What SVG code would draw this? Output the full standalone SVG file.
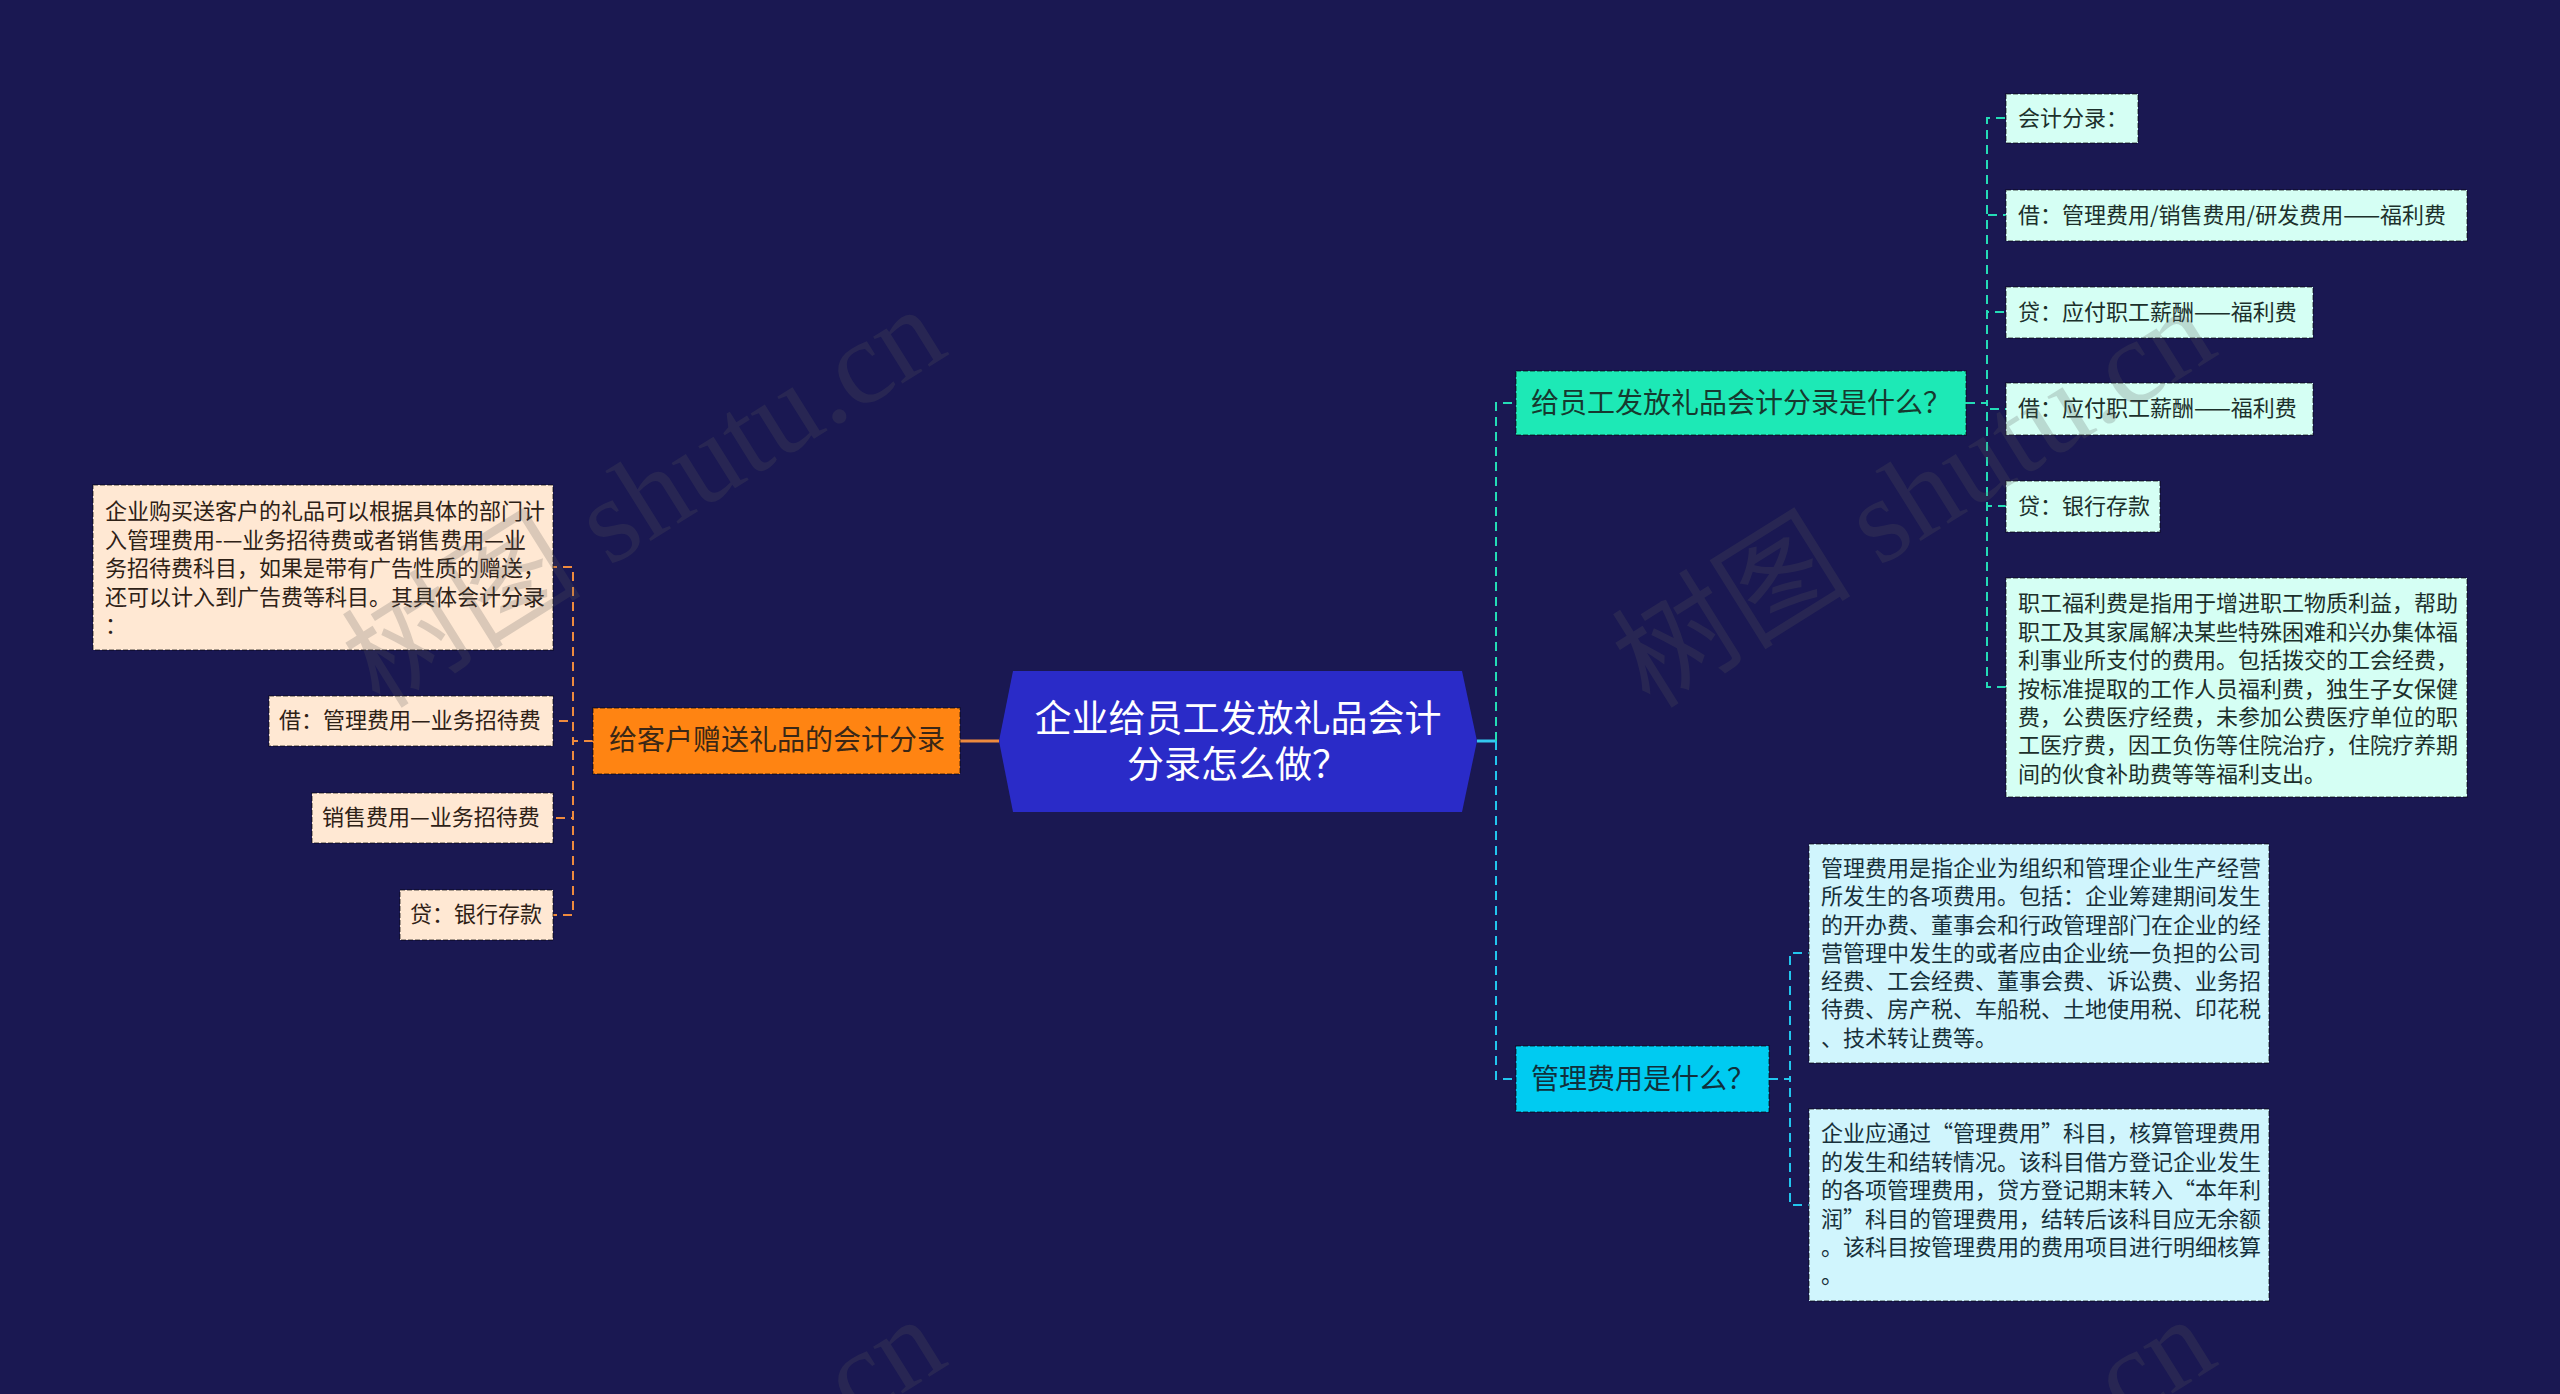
<svg xmlns="http://www.w3.org/2000/svg" width="2560" height="1394" viewBox="0 0 2560 1394">
<defs>
<style>
.t{font-family:"Noto Sans CJK SC","Noto Sans",sans-serif;}
.s22{font-size:22px;}
.s28{font-size:28px;}
.b{stroke:#000;stroke-opacity:0.45;stroke-width:1.5;stroke-dasharray:5 2;}
.peach{fill:#ffe8d3;}
.mint{fill:#d5fff4;}
.ice{fill:#d0f5fd;}
.tp{fill:#2e2116;}
.tm{fill:#1c302b;}
.ti{fill:#17303a;}
.c{fill:none;stroke-width:2;stroke-dasharray:9 6;}
.co{stroke:#ee8a3e;}
.cg{stroke:#24dcb6;}
.cc{stroke:#22c6ee;}
.wm{font-family:"Liberation Serif","Noto Sans CJK SC",serif;font-size:120px;fill:#5a5a5a;opacity:0.22;}
</style>
</defs>
<rect x="0" y="0" width="2560" height="1394" fill="#1a1852"/>

<g id="connectors">
<line x1="960" y1="741" x2="999" y2="741" stroke="#ee8a3e" stroke-width="3"/>
<line x1="1477" y1="741" x2="1496" y2="741" stroke="#33c8f0" stroke-width="3"/>
<path class="c cg" d="M1496 741 V403 H1516"/>
<path class="c cc" d="M1496 741 V1079 H1516"/>
<path class="c co" d="M593 741 H573 V567 H553"/>
<path class="c co" d="M593 741 H573 V721 H553"/>
<path class="c co" d="M593 741 H573 V818 H553"/>
<path class="c co" d="M593 741 H573 V915 H553"/>
<path class="c cg" d="M1966 403 H1987 V118 H2006"/>
<path class="c cg" d="M1966 403 H1987 V215 H2006"/>
<path class="c cg" d="M1966 403 H1987 V312 H2006"/>
<path class="c cg" d="M1966 403 H1987 V409 H2006"/>
<path class="c cg" d="M1966 403 H1987 V506 H2006"/>
<path class="c cg" d="M1966 403 H1987 V687 H2006"/>
<path class="c cc" d="M1769 1079 H1790 V953 H1809"/>
<path class="c cc" d="M1769 1079 H1790 V1205 H1809"/>
</g>

<g id="root">
<polygon points="999,741 1013,671 1462,671 1477,741 1462,812 1013,812" fill="#2a2bc8"/>
<text class="t" font-size="37" fill="#ffffff" text-anchor="middle" dominant-baseline="central"><tspan x="1238" y="716">企业给员工发放礼品会计</tspan><tspan x="1238" y="762">分录怎么做？</tspan></text>
</g>

<g id="n-gift-client">
<rect class="b" x="593" y="708" width="367" height="66" fill="#ff8412"/>
<text class="t s28" x="609" y="738" fill="#3a2716" dominant-baseline="central">给客户赠送礼品的会计分录</text>
</g>

<g id="n-left-desc">
<rect class="b peach" x="93" y="485" width="460" height="165"/>
<text class="t s22 tp" dominant-baseline="central">
<tspan x="105" y="509">企业购买送客户的礼品可以根据具体的部门计</tspan>
<tspan x="105" y="537.5">入管理费用-—业务招待费或者销售费用—业</tspan>
<tspan x="105" y="566">务招待费科目，如果是带有广告性质的赠送，</tspan>
<tspan x="105" y="594.5">还可以计入到广告费等科目。其具体会计分录</tspan>
<tspan x="105" y="623">：</tspan>
</text>
</g>
<g id="n-left-1">
<rect class="b peach" x="269" y="696" width="284" height="50"/>
<text class="t s22 tp" x="279" y="718" dominant-baseline="central">借：管理费用—业务招待费</text>
</g>
<g id="n-left-2">
<rect class="b peach" x="312" y="793" width="241" height="50"/>
<text class="t s22 tp" x="322" y="815" dominant-baseline="central">销售费用—业务招待费</text>
</g>
<g id="n-left-3">
<rect class="b peach" x="400" y="890" width="153" height="50"/>
<text class="t s22 tp" x="410" y="912" dominant-baseline="central">贷：银行存款</text>
</g>

<g id="n-staff-gift">
<rect class="b" x="1516" y="371" width="450" height="64" fill="#1de9b6"/>
<text class="t s28" x="1531" y="401" fill="#16392f" dominant-baseline="central">给员工发放礼品会计分录是什么？</text>
</g>
<g id="n-r1">
<rect class="b mint" x="2006" y="94" width="132" height="49"/>
<text class="t s22 tm" x="2018" y="115.5" dominant-baseline="central">会计分录：</text>
</g>
<g id="n-r2">
<rect class="b mint" x="2006" y="190" width="461" height="51"/>
<text class="t s22 tm" x="2018" y="212.5" dominant-baseline="central">借：管理费用/销售费用/研发费用——福利费</text>
</g>
<g id="n-r3">
<rect class="b mint" x="2006" y="287" width="307" height="51"/>
<text class="t s22 tm" x="2018" y="309.5" dominant-baseline="central">贷：应付职工薪酬——福利费</text>
</g>
<g id="n-r4">
<rect class="b mint" x="2006" y="383" width="307" height="52"/>
<text class="t s22 tm" x="2018" y="406" dominant-baseline="central">借：应付职工薪酬——福利费</text>
</g>
<g id="n-r5">
<rect class="b mint" x="2006" y="481" width="154" height="51"/>
<text class="t s22 tm" x="2018" y="503.5" dominant-baseline="central">贷：银行存款</text>
</g>
<g id="n-r6">
<rect class="b mint" x="2006" y="578" width="461" height="219"/>
<text class="t s22 tm" dominant-baseline="central">
<tspan x="2018" y="601">职工福利费是指用于增进职工物质利益，帮助</tspan>
<tspan x="2018" y="629.5">职工及其家属解决某些特殊困难和兴办集体福</tspan>
<tspan x="2018" y="658">利事业所支付的费用。包括拨交的工会经费，</tspan>
<tspan x="2018" y="686.5">按标准提取的工作人员福利费，独生子女保健</tspan>
<tspan x="2018" y="715">费，公费医疗经费，未参加公费医疗单位的职</tspan>
<tspan x="2018" y="743">工医疗费，因工负伤等住院治疗，住院疗养期</tspan>
<tspan x="2018" y="771.5">间的伙食补助费等等福利支出。</tspan>
</text>
</g>

<g id="n-mgmt">
<rect class="b" x="1516" y="1046" width="253" height="66" fill="#00cbf1"/>
<text class="t s28" x="1531" y="1077" fill="#10303c" dominant-baseline="central">管理费用是什么？</text>
</g>
<g id="n-m1">
<rect class="b ice" x="1809" y="844" width="460" height="219"/>
<text class="t s22 ti" dominant-baseline="central">
<tspan x="1821" y="866">管理费用是指企业为组织和管理企业生产经营</tspan>
<tspan x="1821" y="894">所发生的各项费用。包括：企业筹建期间发生</tspan>
<tspan x="1821" y="922.5">的开办费、董事会和行政管理部门在企业的经</tspan>
<tspan x="1821" y="950.5">营管理中发生的或者应由企业统一负担的公司</tspan>
<tspan x="1821" y="979">经费、工会经费、董事会费、诉讼费、业务招</tspan>
<tspan x="1821" y="1007">待费、房产税、车船税、土地使用税、印花税</tspan>
<tspan x="1821" y="1035.5">、技术转让费等。</tspan>
</text>
</g>
<g id="n-m2">
<rect class="b ice" x="1809" y="1109" width="460" height="192"/>
<text class="t s22 ti" dominant-baseline="central">
<tspan x="1821" y="1131">企业应通过“管理费用”科目，核算管理费用</tspan>
<tspan x="1821" y="1159.5">的发生和结转情况。该科目借方登记企业发生</tspan>
<tspan x="1821" y="1188">的各项管理费用，贷方登记期末转入“本年利</tspan>
<tspan x="1821" y="1216.5">润”科目的管理费用，结转后该科目应无余额</tspan>
<tspan x="1821" y="1245">。该科目按管理费用的费用项目进行明细核算</tspan>
<tspan x="1821" y="1273">。</tspan>
</text>
</g>

<g id="watermarks">
<text class="wm" transform="translate(380 710) rotate(-32)">树图 shutu.cn</text>
<text class="wm" transform="translate(1650 710) rotate(-32)">树图 shutu.cn</text>
<text class="wm" transform="translate(380 1720) rotate(-32)">树图 shutu.cn</text>
<text class="wm" transform="translate(1650 1720) rotate(-32)">树图 shutu.cn</text>
</g>
</svg>
